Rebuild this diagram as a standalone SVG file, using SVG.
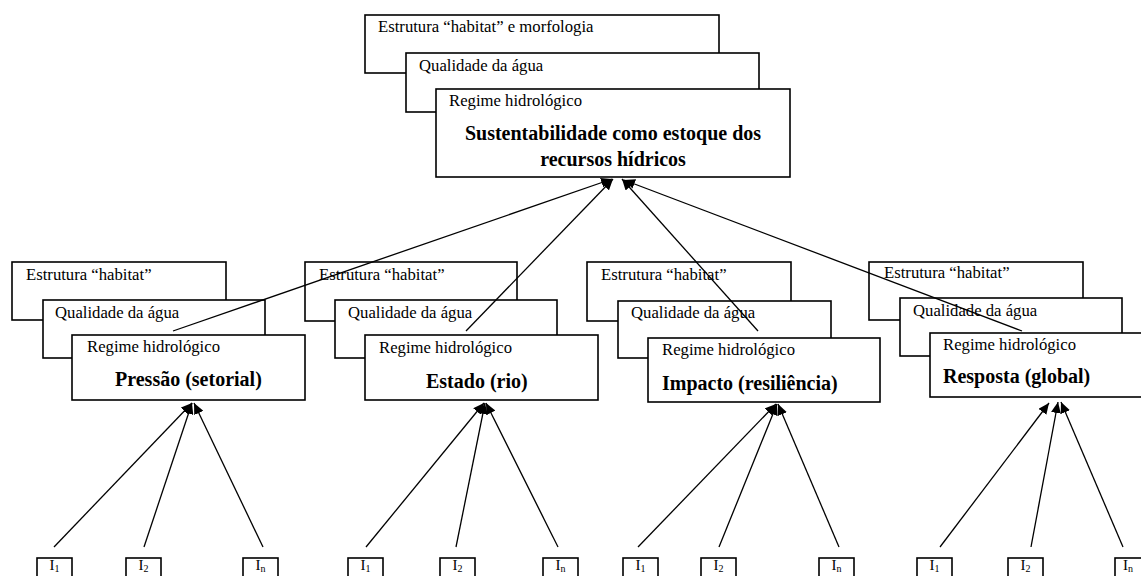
<svg xmlns="http://www.w3.org/2000/svg" width="1141" height="576" viewBox="0 0 1141 576">
<style>
.b{fill:#fff;stroke:#000;stroke-width:1.6}
.t{font-family:"Liberation Serif","Times New Roman",serif;font-size:16.7px;fill:#000}
.h{font-family:"Liberation Serif","Times New Roman",serif;font-size:20px;font-weight:bold;fill:#000}
.c{stroke:#000;stroke-width:1.3;fill:none;marker-end:url(#ah)}
.i{font-family:"Liberation Serif","Times New Roman",serif;font-size:15px;fill:#000}
.s{font-size:10px}
</style>
<defs>
<marker id="ah" markerUnits="userSpaceOnUse" markerWidth="12" markerHeight="10" refX="11" refY="5" orient="auto">
<path d="M0,0 L11,5 L0,10 z" fill="#000"/>
</marker>
</defs>
<rect width="1141" height="576" fill="#fff"/>

<g id="top">
<rect class="b" x="365" y="15" width="354" height="58"/>
<text class="t" x="378" y="32">Estrutura “habitat” e morfologia</text>
<rect class="b" x="406" y="53" width="353" height="59"/>
<text class="t" x="419" y="71">Qualidade da água</text>
<rect class="b" x="436" y="89" width="354" height="88"/>
<text class="t" x="449" y="106">Regime hidrológico</text>
<text class="h" x="613" y="140" text-anchor="middle">Sustentabilidade como estoque dos</text>
<text class="h" x="613" y="166" text-anchor="middle">recursos hídricos</text>
</g>

<g id="pressao">
<rect class="b" x="12" y="262" width="214" height="58"/>
<text class="t" x="26" y="280">Estrutura “habitat”</text>
<rect class="b" x="43" y="300" width="222" height="58"/>
<text class="t" x="55" y="318">Qualidade da água</text>
<rect class="b" x="72" y="335" width="233" height="65"/>
<text class="t" x="87" y="352">Regime hidrológico</text>
<text class="h" x="115" y="386">Pressão (setorial)</text>
</g>

<g id="estado">
<rect class="b" x="305" y="262" width="212" height="59"/>
<text class="t" x="319" y="280">Estrutura “habitat”</text>
<rect class="b" x="335" y="300" width="222" height="58"/>
<text class="t" x="348" y="318">Qualidade da água</text>
<rect class="b" x="365" y="335" width="233" height="65"/>
<text class="t" x="379" y="353">Regime hidrológico</text>
<text class="h" x="426" y="388">Estado (rio)</text>
</g>

<g id="impacto">
<rect class="b" x="587" y="262" width="204" height="59"/>
<text class="t" x="601" y="280">Estrutura “habitat”</text>
<rect class="b" x="618" y="301" width="213" height="57"/>
<text class="t" x="631" y="318">Qualidade da água</text>
<rect class="b" x="648" y="338" width="232" height="64"/>
<text class="t" x="662" y="355">Regime hidrológico</text>
<text class="h" x="662" y="390">Impacto (resiliência)</text>
</g>

<g id="resposta">
<rect class="b" x="869" y="262" width="214" height="58"/>
<text class="t" x="884" y="278">Estrutura “habitat”</text>
<rect class="b" x="900" y="298" width="222" height="58"/>
<text class="t" x="913" y="316">Qualidade da água</text>
<rect class="b" x="930" y="333" width="233" height="64"/>
<text class="t" x="943" y="350">Regime hidrológico</text>
<text class="h" x="943" y="383">Resposta (global)</text>
</g>

<g id="indicadores">
<rect class="b" x="37" y="558" width="35" height="40"/>
<text class="i" x="54.5" y="570" text-anchor="middle">I<tspan class="s" dy="2">1</tspan></text>
<rect class="b" x="126" y="558" width="35" height="40"/>
<text class="i" x="143.5" y="570" text-anchor="middle">I<tspan class="s" dy="2">2</tspan></text>
<rect class="b" x="243" y="558" width="35" height="40"/>
<text class="i" x="260.5" y="570" text-anchor="middle">I<tspan class="s" dy="2">n</tspan></text>

<rect class="b" x="348" y="558" width="35" height="40"/>
<text class="i" x="365.5" y="570" text-anchor="middle">I<tspan class="s" dy="2">1</tspan></text>
<rect class="b" x="440" y="558" width="35" height="40"/>
<text class="i" x="457.5" y="570" text-anchor="middle">I<tspan class="s" dy="2">2</tspan></text>
<rect class="b" x="543" y="558" width="35" height="40"/>
<text class="i" x="560.5" y="570" text-anchor="middle">I<tspan class="s" dy="2">n</tspan></text>

<rect class="b" x="623" y="558" width="35" height="40"/>
<text class="i" x="640.5" y="570" text-anchor="middle">I<tspan class="s" dy="2">1</tspan></text>
<rect class="b" x="701" y="558" width="35" height="40"/>
<text class="i" x="718.5" y="570" text-anchor="middle">I<tspan class="s" dy="2">2</tspan></text>
<rect class="b" x="819" y="558" width="35" height="40"/>
<text class="i" x="836.5" y="570" text-anchor="middle">I<tspan class="s" dy="2">n</tspan></text>

<rect class="b" x="917" y="558" width="35" height="40"/>
<text class="i" x="934.5" y="570" text-anchor="middle">I<tspan class="s" dy="2">1</tspan></text>
<rect class="b" x="1008" y="558" width="35" height="40"/>
<text class="i" x="1025.5" y="570" text-anchor="middle">I<tspan class="s" dy="2">2</tspan></text>
<rect class="b" x="1115" y="558" width="35" height="40"/>
<text class="i" x="1128" y="570" text-anchor="middle">I<tspan class="s" dy="2">n</tspan></text>
</g>

<g id="connectors">
<line class="c" x1="173" y1="331" x2="612" y2="179"/>
<line class="c" x1="466" y1="331" x2="613" y2="179"/>
<line class="c" x1="758" y1="331" x2="622" y2="179"/>
<line class="c" x1="1022" y1="331" x2="624" y2="180"/>

<line class="c" x1="54" y1="547" x2="192" y2="403"/>
<line class="c" x1="144" y1="547" x2="192" y2="403"/>
<line class="c" x1="263" y1="547" x2="194" y2="403"/>

<line class="c" x1="366" y1="547" x2="484" y2="403"/>
<line class="c" x1="456" y1="547" x2="485" y2="403"/>
<line class="c" x1="558" y1="547" x2="486" y2="403"/>

<line class="c" x1="638" y1="547" x2="776" y2="404"/>
<line class="c" x1="719" y1="547" x2="777" y2="404"/>
<line class="c" x1="839" y1="547" x2="778" y2="404"/>

<line class="c" x1="940" y1="547" x2="1049" y2="403"/>
<line class="c" x1="1031" y1="547" x2="1058" y2="402"/>
<line class="c" x1="1123" y1="547" x2="1061" y2="402"/>
</g>
</svg>
